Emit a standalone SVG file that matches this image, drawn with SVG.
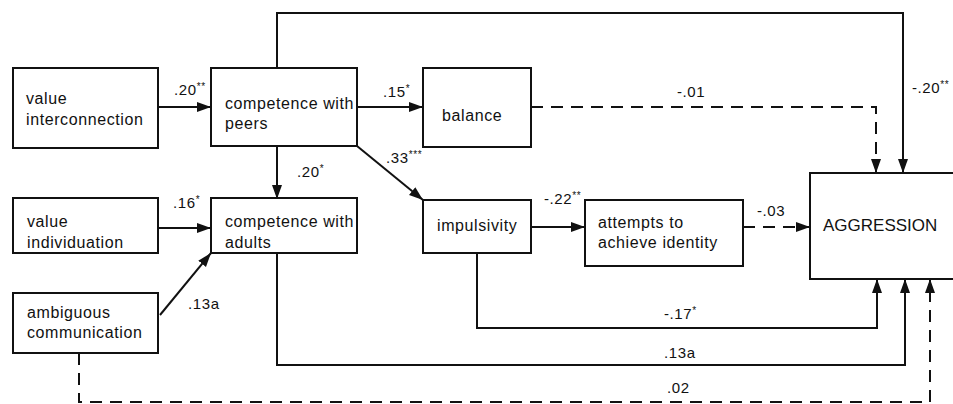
<svg xmlns="http://www.w3.org/2000/svg" width="953" height="404" viewBox="0 0 953 404">
  <style>
    .box { fill: #fff; stroke: #111; stroke-width: 2; }
    .txt { font-family: "Liberation Sans", Arial, sans-serif; font-size: 16px; letter-spacing: 0.6px; fill: #111; }
    .big { font-family: "Liberation Sans", Arial, sans-serif; font-size: 17px; fill: #111; }
    .lbl { font-family: "Liberation Sans", Arial, sans-serif; font-size: 15px; letter-spacing: 0.6px; fill: #111; }
    .sup { font-size: 10px; }
    .line { fill: none; stroke: #111; stroke-width: 2; }
    .dash { fill: none; stroke: #111; stroke-width: 2; stroke-dasharray: 12 8; }
  </style>
  <defs>
    <marker id="arrow" markerUnits="userSpaceOnUse" markerWidth="15" markerHeight="11" refX="14" refY="5" orient="auto">
      <path d="M0,0 L14,5 L0,10 z" fill="#111"/>
    </marker>
  </defs>
  <rect width="953" height="404" fill="#fff"/>

  <g id="connectors">
    <path class="line" d="M158,107 H211" marker-end="url(#arrow)"/>
    <path class="line" d="M357,107 H423" marker-end="url(#arrow)"/>
    <path class="line" d="M277,146 V199" marker-end="url(#arrow)"/>
    <path class="line" d="M357,146 L423,200" marker-end="url(#arrow)"/>
    <path class="line" d="M277,68 V13 H903 V173" marker-end="url(#arrow)"/>
    <path class="dash" d="M531,107 H876 V173" marker-end="url(#arrow)"/>
    <path class="line" d="M158,228 H211" marker-end="url(#arrow)"/>
    <path class="line" d="M160,315 L211,253" marker-end="url(#arrow)"/>
    <path class="line" d="M531,227 H585" marker-end="url(#arrow)"/>
    <path class="dash" d="M743,227 H810" stroke-dasharray="8 6" marker-end="url(#arrow)"/>
    <path class="line" d="M477,253 V328 H877 V279" marker-end="url(#arrow)"/>
    <path class="line" d="M277,253 V365 H905 V279" marker-end="url(#arrow)"/>
    <path class="dash" d="M79,353 V402 H930 V279" marker-end="url(#arrow)"/>

    <text class="lbl" x="174" y="95">.20<tspan class="sup" dy="-5">**</tspan></text>
    <text class="lbl" x="383" y="97">.15<tspan class="sup" dy="-5">*</tspan></text>
    <text class="lbl" x="386" y="163">.33<tspan class="sup" dy="-5">***</tspan></text>
    <text class="lbl" x="297" y="177">.20<tspan class="sup" dy="-5">*</tspan></text>
    <text class="lbl" x="677" y="97">-.01</text>
    <text class="lbl" x="912" y="93">-.20<tspan class="sup" dy="-5">**</tspan></text>
    <text class="lbl" x="173" y="208">.16<tspan class="sup" dy="-5">*</tspan></text>
    <text class="lbl" x="188" y="309">.13a</text>
    <text class="lbl" x="544" y="204">-.22<tspan class="sup" dy="-5">**</tspan></text>
    <text class="lbl" x="757" y="216">-.03</text>
    <text class="lbl" x="664" y="319">-.17<tspan class="sup" dy="-5">*</tspan></text>
    <text class="lbl" x="664" y="358">.13a</text>
    <text class="lbl" x="667" y="393">.02</text>
  </g>

  <g id="value-interconnection">
    <rect class="box" x="13" y="68" width="145" height="80"/>
    <text class="txt" x="26" y="104">value</text>
    <text class="txt" x="26" y="125">interconnection</text>
  </g>
  <g id="competence-peers">
    <rect class="box" x="211" y="68" width="146" height="78"/>
    <text class="txt" x="225" y="109">competence with</text>
    <text class="txt" x="225" y="129">peers</text>
  </g>
  <g id="balance">
    <rect class="box" x="423" y="68" width="108" height="79"/>
    <text class="txt" x="442" y="121">balance</text>
  </g>
  <g id="value-individuation">
    <rect class="box" x="13" y="198" width="145" height="55"/>
    <text class="txt" x="27" y="227">value</text>
    <text class="txt" x="27" y="248">individuation</text>
  </g>
  <g id="competence-adults">
    <rect class="box" x="211" y="198" width="146" height="55"/>
    <text class="txt" x="225" y="227">competence with</text>
    <text class="txt" x="225" y="248">adults</text>
  </g>
  <g id="impulsivity">
    <rect class="box" x="423" y="200" width="108" height="53"/>
    <text class="txt" x="437" y="231">impulsivity</text>
  </g>
  <g id="attempts">
    <rect class="box" x="585" y="200" width="158" height="66"/>
    <text class="txt" x="598" y="228">attempts to</text>
    <text class="txt" x="598" y="248">achieve identity</text>
  </g>
  <g id="ambiguous-communication">
    <rect class="box" x="13" y="293" width="145" height="60"/>
    <text class="txt" x="27" y="318">ambiguous</text>
    <text class="txt" x="27" y="338">communication</text>
  </g>
  <g id="aggression">
    <rect class="box" x="810" y="173" width="150" height="106"/>
    <text class="big" x="823" y="231">AGGRESSION</text>
  </g>
</svg>
